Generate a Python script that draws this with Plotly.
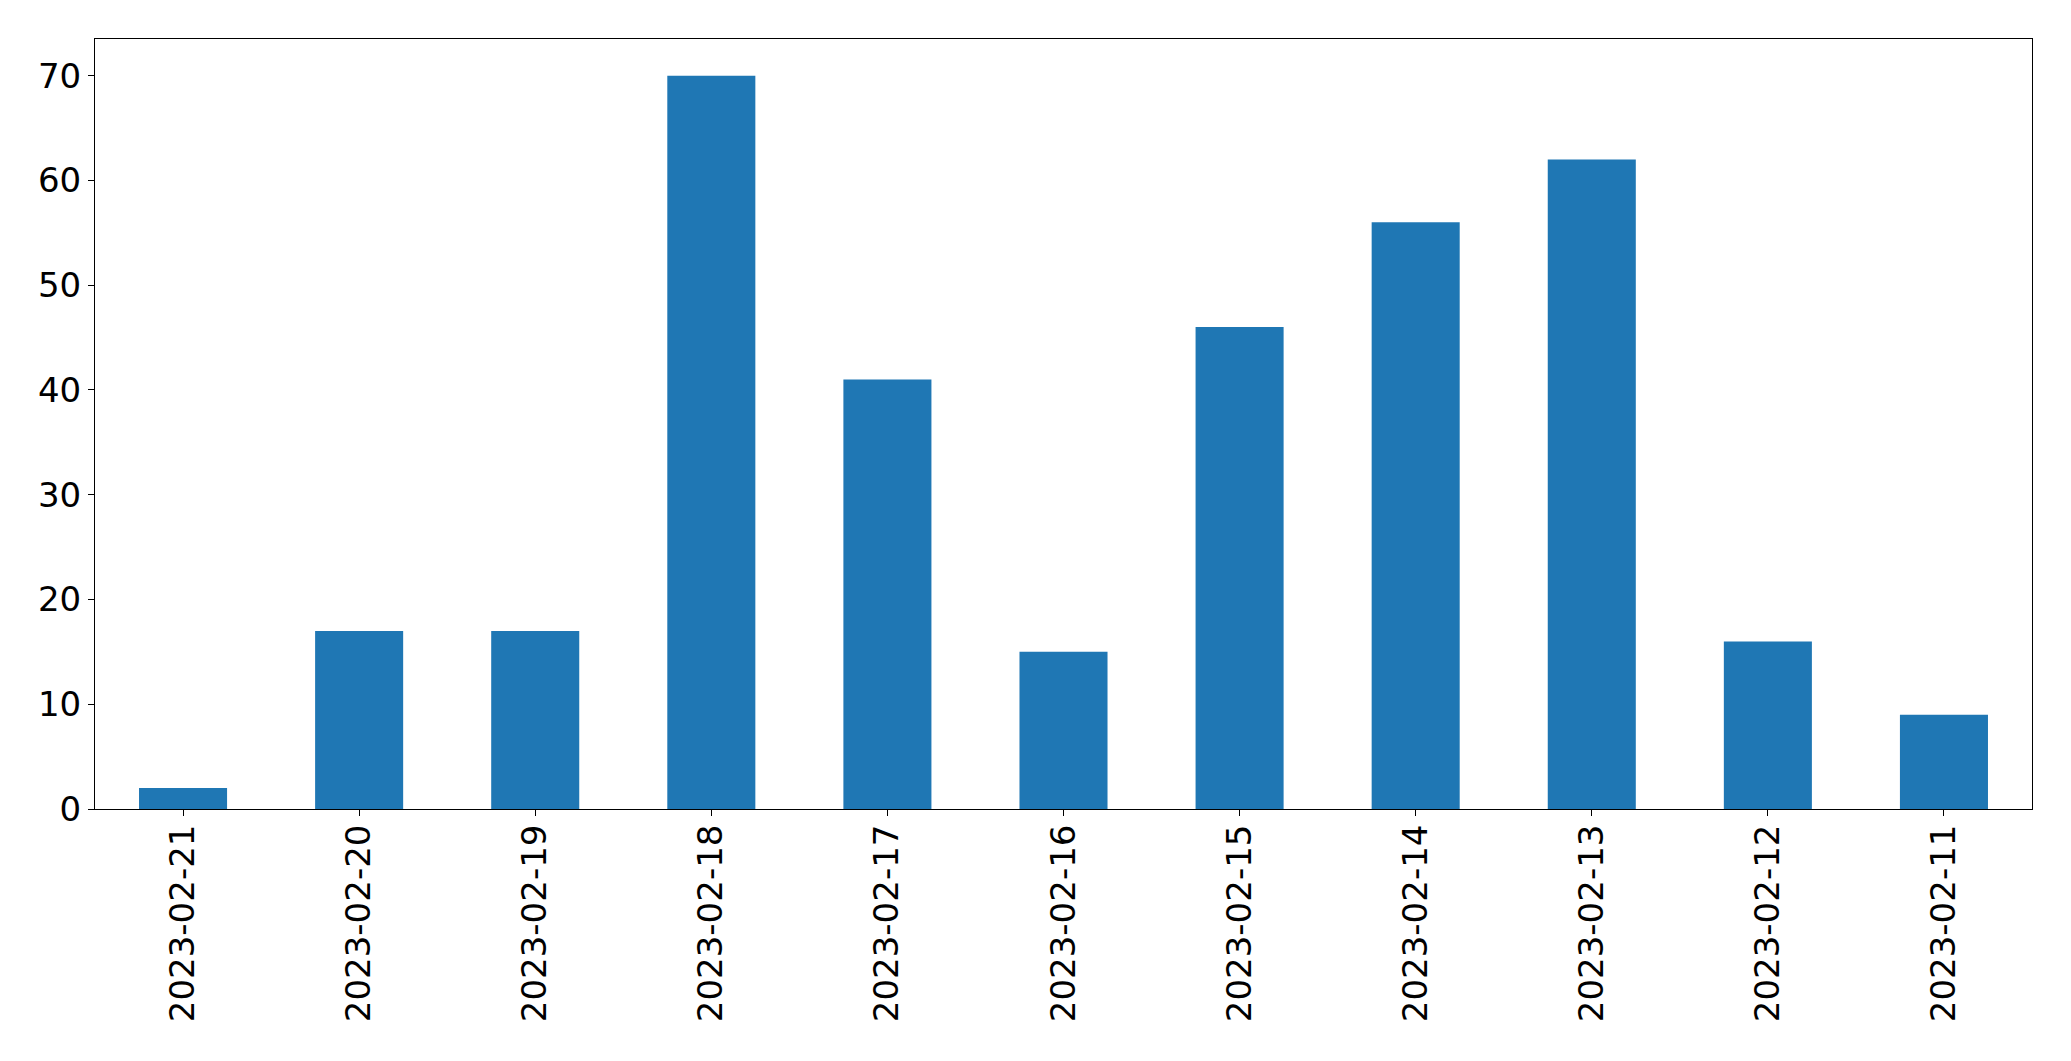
import plotly.graph_objects as go

dates = ["2023-02-21", "2023-02-20", "2023-02-19", "2023-02-18", "2023-02-17",
         "2023-02-16", "2023-02-15", "2023-02-14", "2023-02-13", "2023-02-12", "2023-02-11"]
counts = [2, 17, 17, 70, 41, 15, 46, 56, 62, 16, 9]
y_ticks = [0, 10, 20, 30, 40, 50, 60, 70]

fig = go.Figure(go.Bar(x=dates, y=counts, width=0.5, marker=dict(color="#1f77b4", line=dict(width=0))))

font = dict(family="DejaVu Sans", size=34, color="black")
fig.update_layout(
    width=2055, height=1045,
    margin=dict(l=87, r=31, t=31, b=244, autoexpand=False),
    paper_bgcolor="white", plot_bgcolor="white",
    showlegend=False,
    font=font,
)
fig.update_xaxes(type="category", range=[-0.5, 10.5], tickangle=-90,
                 showline=True, linecolor="black", linewidth=1, mirror=True,
                 ticks="outside", ticklen=6, tickwidth=1, tickcolor="black",
                 showgrid=False, zeroline=False, tickfont=font, automargin=False,
                 ticklabelstandoff=-5)
fig.update_yaxes(range=[0, 73.5], tickvals=y_ticks,
                 showline=True, linecolor="black", linewidth=1, mirror=True,
                 ticks="outside", ticklen=6, tickwidth=1, tickcolor="black",
                 showgrid=False, zeroline=False, tickfont=font, automargin=False)

fig.write_html("out.html")
